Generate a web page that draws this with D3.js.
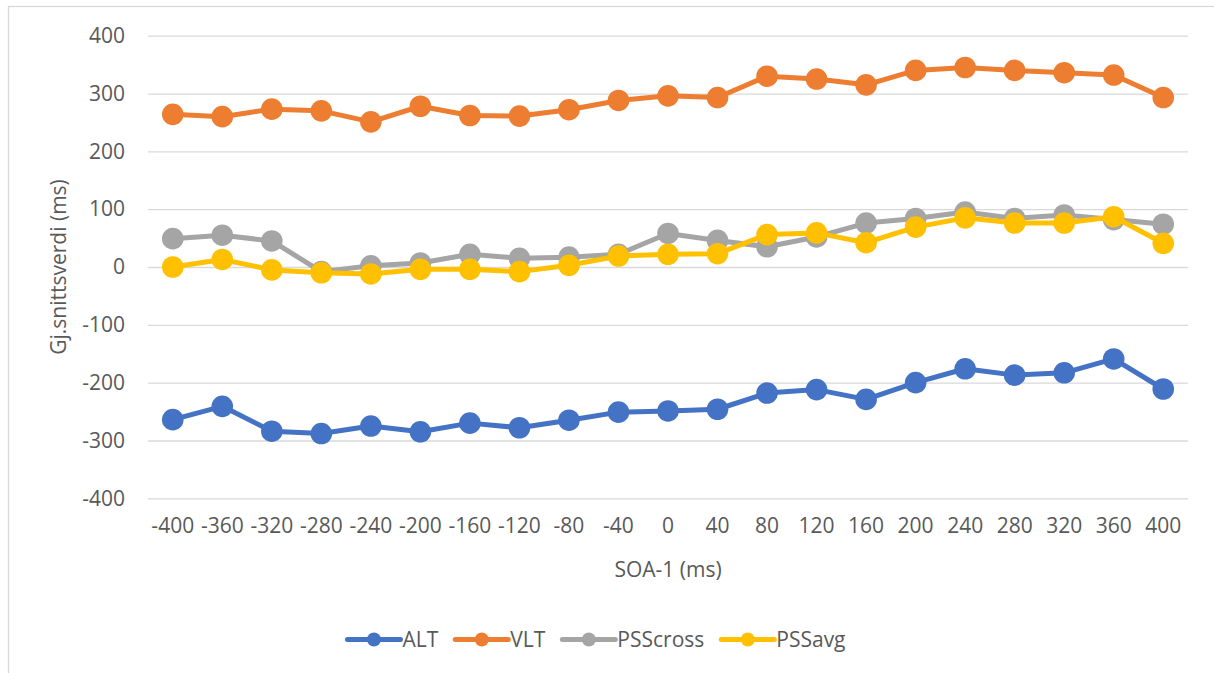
<!DOCTYPE html>
<html>
<head>
<meta charset="utf-8">
<script src="https://cdn.jsdelivr.net/npm/d3@7/dist/d3.min.js"></script>
<style>
  html, body { margin: 0; padding: 0; background: #fff; }
  svg { display: block; font-family: "Open Sans", "Noto Sans", sans-serif; }
</style>
</head>
<body>
<svg id="chart" width="1214" height="673"></svg>
<script>
// SOA-1 levels (ms)
const categories = ["-400","-360","-320","-280","-240","-200","-160","-120","-80","-40","0","40","80","120","160","200","240","280","320","360","400"];

// Mean values per series (ms)
const altValues      = [-264,-241,-284,-288,-275,-285,-270,-278,-265,-251,-249,-246,-218,-212,-229,-200,-176,-187,-183,-159,-211];
const vltValues      = [264,260,273,270,251,278,262,261,272,288,296,293,330,325,315,340,345,340,336,332,293];
const psscrossValues = [49,55,45,-8,2,7,22,15,17,22,58,46,35,52,76,84,95,84,90,82,74];
const pssavgValues   = [0,13,-5,-10,-12,-4,-4,-8,3,19,22,23,56,59,42,69,85,76,76,87,41];

const yTicks = [-400,-300,-200,-100,0,100,200,300,400];

const seriesNames  = ["ALT","VLT","PSScross","PSSavg"];
const seriesColors = ["#4472C4","#ED7D31","#A5A5A5","#FFC000"];
const series = [
  { name: seriesNames[0], color: seriesColors[0], values: altValues },
  { name: seriesNames[1], color: seriesColors[1], values: vltValues },
  { name: seriesNames[2], color: seriesColors[2], values: psscrossValues },
  { name: seriesNames[3], color: seriesColors[3], values: pssavgValues }
];

const svg = d3.select("#chart");
const textColor = "#595959";
const fontSize = 21;
const fontFamily = "'Open Sans', 'Noto Sans', sans-serif";

// chart frame
svg.append("rect")
  .attr("x", 8.5).attr("y", 6.5)
  .attr("width", 1214).attr("height", 700)
  .attr("fill", "#fff")
  .attr("stroke", "#d9d9d9").attr("stroke-width", 1.3);

const plot = { left: 148, right: 1188, top: 35.7, bottom: 498.3 };

const x = d3.scaleBand().domain(categories).range([plot.left, plot.right]).padding(0);
const y = d3.scaleLinear().domain([-400, 400]).range([plot.bottom, plot.top]);
const cx = c => x(c) + x.bandwidth() / 2;

// horizontal gridlines + y tick labels (plain hyphen for negatives)
const yAxis = d3.axisLeft(y)
  .tickValues(yTicks)
  .tickFormat(d => String(d))
  .tickSize(-(plot.right - plot.left))
  .tickPadding(23);
const gy = svg.append("g").attr("transform", `translate(${plot.left},0)`).call(yAxis);
gy.select(".domain").remove();
gy.selectAll(".tick line").attr("stroke", "#d9d9d9").attr("stroke-width", 1.3);
gy.selectAll(".tick text")
  .attr("fill", textColor).attr("font-size", fontSize)
  .attr("font-family", fontFamily);

// x tick labels
const xAxis = d3.axisBottom(x).tickSize(0).tickPadding(20);
const gx = svg.append("g").attr("transform", `translate(0,${plot.bottom})`).call(xAxis);
gx.select(".domain").remove();
gx.selectAll(".tick text")
  .attr("fill", textColor).attr("font-size", fontSize)
  .attr("font-family", fontFamily);

// axis titles
svg.append("text")
  .attr("x", (plot.left + plot.right) / 2).attr("y", 577)
  .attr("text-anchor", "middle")
  .attr("fill", textColor).attr("font-size", fontSize)
  .text("SOA-1 (ms)");

svg.append("text")
  .attr("transform", `translate(66,${(plot.top + plot.bottom) / 2}) rotate(-90)`)
  .attr("text-anchor", "middle")
  .attr("fill", textColor).attr("font-size", fontSize)
  .text("Gj.snittsverdi (ms)");

// lines and markers
const line = d3.line().x((d, i) => cx(categories[i])).y(d => y(d));
const gSeries = svg.append("g");
series.forEach(s => {
  const g = gSeries.append("g");
  g.append("path")
    .datum(s.values)
    .attr("d", line)
    .attr("fill", "none")
    .attr("stroke", s.color)
    .attr("stroke-width", 5)
    .attr("stroke-linejoin", "round");
  g.selectAll("circle")
    .data(s.values)
    .join("circle")
    .attr("cx", (d, i) => cx(categories[i]))
    .attr("cy", d => y(d))
    .attr("r", 10.8)
    .attr("fill", s.color);
});

// legend
const legend = svg.append("g");
const symW = 53, textGap = 2, itemGap = 17, legendY = 639.5;
const items = series.map(s => {
  const g = legend.append("g");
  g.append("line")
    .attr("x1", 0).attr("x2", symW)
    .attr("y1", legendY).attr("y2", legendY)
    .attr("stroke", s.color).attr("stroke-width", 5).attr("stroke-linecap", "round");
  g.append("circle")
    .attr("cx", symW / 2).attr("cy", legendY).attr("r", 7)
    .attr("fill", s.color);
  const t = g.append("text")
    .attr("x", symW + textGap).attr("y", legendY)
    .attr("dy", "0.35em")
    .attr("fill", textColor).attr("font-size", fontSize)
    .text(s.name);
  return { g, w: symW + textGap + t.node().getComputedTextLength() };
});
const total = d3.sum(items, d => d.w) + itemGap * (items.length - 1);
let lx = 596.5 - total / 2;
items.forEach(it => {
  it.g.attr("transform", `translate(${lx},0)`);
  lx += it.w + itemGap;
});
</script>
</body>
</html>
